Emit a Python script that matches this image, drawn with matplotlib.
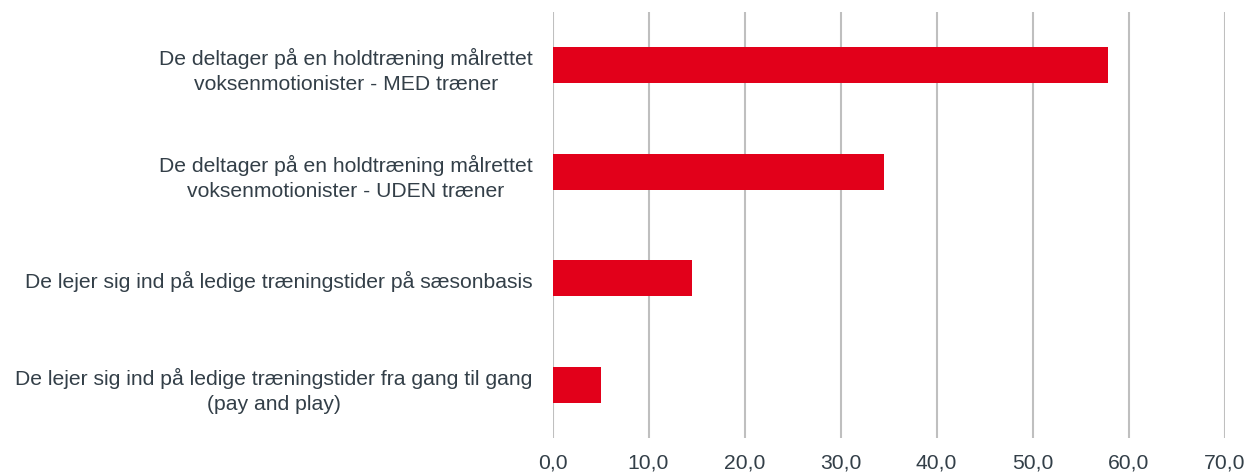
import matplotlib.pyplot as plt
import numpy as np

plt.rcParams['font.family'] = ['Liberation Sans', 'DejaVu Sans']

labels = [
    'De deltager på en holdtræning målrettet\nvoksenmotionister - MED træner',
    'De deltager på en holdtræning målrettet\nvoksenmotionister - UDEN træner',
    'De lejer sig ind på ledige træningstider på sæsonbasis',
    'De lejer sig ind på ledige træningstider fra gang til gang\n(pay and play)',
]
values = [57.8, 34.5, 14.5, 5.1]
xticks = [0, 10, 20, 30, 40, 50, 60, 70]

text_color = '#333f48'
bar_color = '#e2001a'
grid_color = '#bfbfbf'

fig = plt.figure(figsize=(12.58, 4.77), dpi=100)
ax = fig.add_axes([0.4392, 0.0797, 0.5343, 0.893])

y = np.arange(len(labels))
ax.barh(y, values, height=0.34, color=bar_color, zorder=3)

ax.set_xlim(0, 70)
ax.set_ylim(len(labels) - 0.5, -0.5)
ax.set_xticks(xticks)
ax.set_xticklabels([f'{v:.1f}'.replace('.', ',') for v in xticks])
ax.set_yticks(y)
ax.set_yticklabels(labels, ha='center', multialignment='center', linespacing=1.4)

ax.grid(axis='x', color=grid_color, linewidth=1.5, zorder=0)
for s in ax.spines.values():
    s.set_visible(False)

ax.tick_params(axis='both', length=0, labelsize=15.2, colors=text_color)
ax.tick_params(axis='x', pad=10.5)

# center each y label on its own block, right edge ~20 px left of the axis
fig.canvas.draw()
renderer = fig.canvas.get_renderer()
widths = [t.get_window_extent(renderer).width for t in ax.get_yticklabels()]
for t, w in zip(ax.get_yticklabels(), widths):
    t.set_x(-(20 + w / 2) / (0.5343 * 1258))
    t.set_transform(ax.get_yaxis_transform())

fig.savefig('out.png', dpi=100)
